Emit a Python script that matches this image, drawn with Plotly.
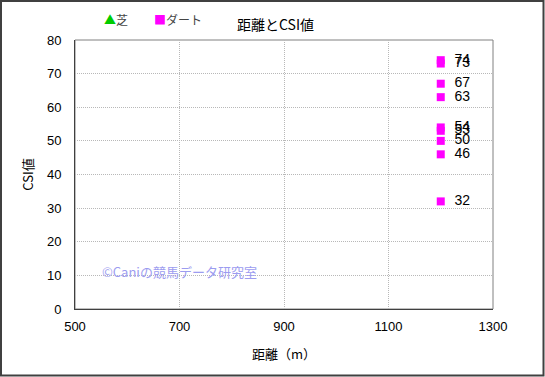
import plotly.graph_objects as go

dirt_dist = [1200, 1200, 1200, 1200, 1200, 1200, 1200, 1200, 1200]
dirt_csi = [74, 73, 67, 63, 54, 53, 50, 46, 32]
turf_dist = []
turf_csi = []
series_names = ["芝", "ダート"]

W, H = 545, 377
L, R, T, B = 75, 52, 40, 68
pw, ph = W - L - R, H - T - B

font_jp = "Noto Sans CJK JP, Liberation Sans, sans-serif"

fig = go.Figure()
fig.add_trace(go.Scatter(
    x=turf_dist if turf_dist else [None], y=turf_csi if turf_csi else [None],
    mode="markers", name=series_names[0],
    marker=dict(symbol="triangle-up", color="#00cc00", size=9),
))
fig.add_trace(go.Scatter(
    x=dirt_dist, y=dirt_csi, mode="markers+text", name=series_names[1],
    text=["  " + str(v) for v in dirt_csi], textposition="middle right",
    textfont=dict(size=14, color="#000000", family="Liberation Sans, Arial"),
    marker=dict(symbol="square", color="#ff00ff", size=8),
))

fig.update_layout(
    width=W, height=H,
    margin=dict(l=L, r=R, t=T, b=B, autoexpand=False),
    paper_bgcolor="white", plot_bgcolor="white",
    font=dict(family=font_jp, size=12, color="#000000"),
    showlegend=False,
    xaxis=dict(range=[500, 1300], dtick=200, tick0=500,
               showgrid=True, gridcolor="#b8b8b8", griddash="1px,1px", gridwidth=1,
               showline=True, linecolor="#404040", linewidth=1,
               ticks="", zeroline=False, automargin=False, ticklabelstandoff=5,
               tickfont=dict(size=13, family="Liberation Sans, Arial"),
               title=dict(text="距離（m）", font=dict(size=13), standoff=17)),
    yaxis=dict(range=[0, 80], dtick=10,
               showgrid=True, gridcolor="#b8b8b8", griddash="1px,1px", gridwidth=1,
               showline=True, linecolor="#404040", linewidth=1,
               ticks="", zeroline=False, automargin=False, ticklabelstandoff=10,
               tickfont=dict(size=13, family="Liberation Sans, Arial"),
               title=dict(text="CSI値", font=dict(size=13), standoff=10)),
)

def px(x):
    return (x - L) / pw

def py(y):
    return (H - B - y) / ph

# title
fig.add_annotation(text="距離とCSI値", xref="paper", yref="paper",
                   x=px(275), y=py(24), xanchor="center", yanchor="middle",
                   showarrow=False, font=dict(size=14, color="#000000", family=font_jp))
# legend (manual)
fig.add_annotation(text="<span style='color:#00cc00'>▲</span>" + series_names[0],
                   xref="paper", yref="paper", x=px(102), y=py(19),
                   xanchor="left", yanchor="middle", showarrow=False,
                   font=dict(size=12, color="#444444", family=font_jp))
fig.add_annotation(text="<span style='color:#ff00ff'>■</span>" + series_names[1],
                   xref="paper", yref="paper", x=px(152), y=py(19),
                   xanchor="left", yanchor="middle", showarrow=False,
                   font=dict(size=12, color="#444444", family=font_jp))

# plot area border (top/right gray)
fig.add_shape(type="rect", xref="paper", yref="paper", x0=0, y0=0, x1=1, y1=1,
              line=dict(color="#808080", width=1), layer="below")
# outer border
fig.add_shape(type="rect", xref="paper", yref="paper",
              x0=px(1), x1=px(W - 1.5),
              y0=py(H - 1.5), y1=py(1),
              line=dict(color="#404040", width=2))

# watermark
fig.add_annotation(text="©Caniの競馬データ研究室", xref="paper", yref="paper",
                   x=px(100), xanchor="left", y=py(271), yanchor="middle",
                   showarrow=False, font=dict(size=13, color="#9c9cf0", family=font_jp))

fig.write_html("out.html", config={"displayModeBar": False},
               post_script="document.body.style.margin='0';")
